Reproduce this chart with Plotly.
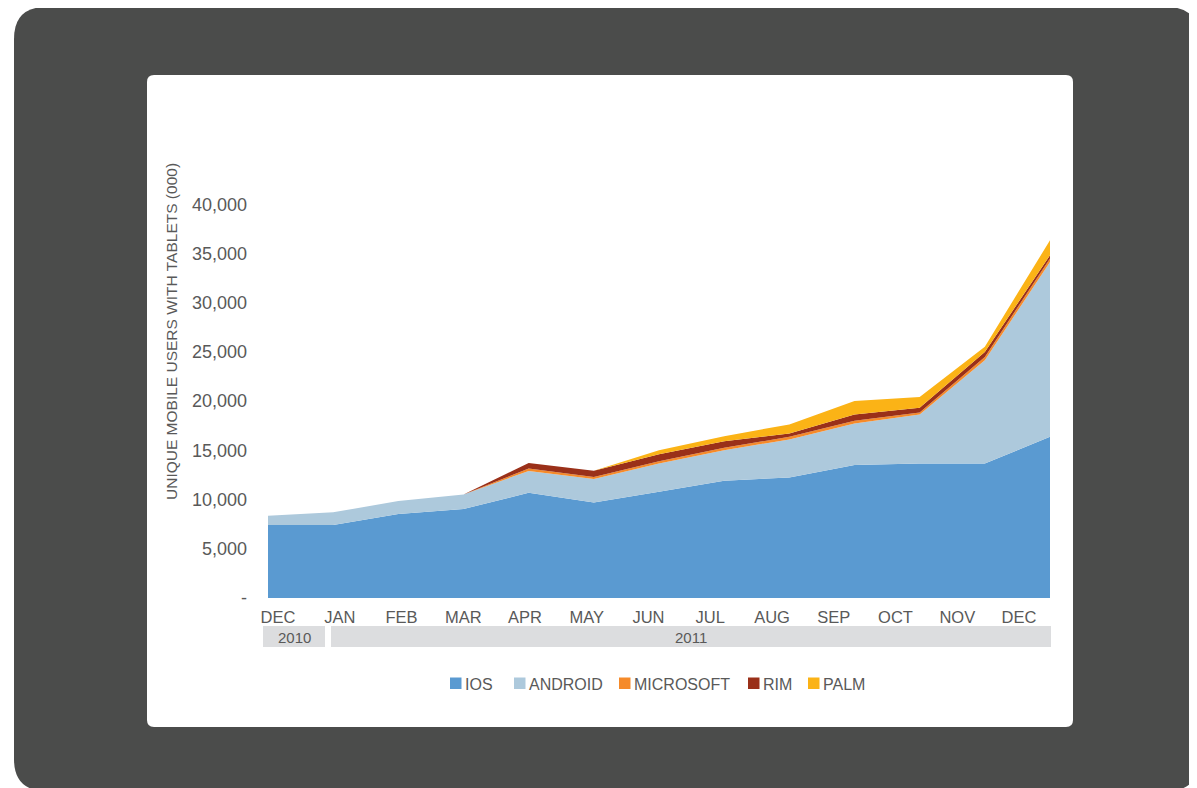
import plotly.graph_objects as go

# ---------------- data (thousands of users) ----------------
months = ["DEC", "JAN", "FEB", "MAR", "APR", "MAY", "JUN", "JUL", "AUG", "SEP", "OCT", "NOV", "DEC"]
years = ["2010", "2011"]
ios = [7410, 7410, 8530, 9030, 10680, 9710, 10800, 11910, 12250, 13500, 13670, 13670, 16375]
android = [940, 1290, 1320, 1490, 2230, 2370, 2850, 3110, 3855, 4230, 4980, 10490, 17765]
microsoft = [0, 0, 0, 0, 250, 200, 240, 240, 270, 270, 200, 330, 340]
rim = [0, 0, 0, 0, 550, 650, 700, 675, 340, 650, 470, 510, 335]
palm = [0, 0, 0, 0, 0, 0, 420, 505, 915, 1350, 1110, 510, 1525]
series_names = ["IOS", "ANDROID", "MICROSOFT", "RIM", "PALM"]
series_colors = ["#5a9ad1", "#adc9dc", "#f58a2a", "#9a3019", "#fbb316"]
y_ticks = [0, 5000, 10000, 15000, 20000, 25000, 30000, 35000, 40000]
y_ticktext = ["-", "5,000", "10,000", "15,000", "20,000", "25,000", "30,000", "35,000", "40,000"]

# ---------------- layout geometry ----------------
# Positions below are given in window pixels; the page body adds an 8px offset.
OFF = 8
W, H = 1197 - OFF, 788 - OFF
L, R, T, B = 268, 1050, 155, 598  # plot area in window pixels
YMAX = 45000
TEXT = "#595959"
FONT = "Liberation Sans, Arial, sans-serif"


def px(xp):
    return (xp - L) / (R - L)


def py(yp):
    return (B - yp) / (B - T)


x_idx = list(range(len(months)))
n = len(months) - 1
unit = (R - L) / n

fig = go.Figure()
for name, vals, col in zip(series_names, [ios, android, microsoft, rim, palm], series_colors):
    fig.add_trace(go.Scatter(
        x=x_idx, y=vals, name=name, stackgroup="one", mode="none",
        fillcolor=col, line=dict(width=0), showlegend=False,
        hovertemplate="%{y:,}<extra>" + name + "</extra>",
    ))

# month label positions (labels are spaced slightly tighter than the data points)
lab_first, lab_last = 278, 1019
tickvals = [((lab_first + i * (lab_last - lab_first) / n) - L) / unit for i in range(len(months))]

shapes = []


def rrect(x0, y0, x1, y1, r, color):
    X0, X1 = px(x0), px(x1)
    Y0, Y1 = py(y0), py(y1)
    rx = r / (R - L)
    ry = r / (B - T)
    path = (f"M{X0 + rx},{Y0} L{X1 - rx},{Y0} Q{X1},{Y0} {X1},{Y0 - ry} "
            f"L{X1},{Y1 + ry} Q{X1},{Y1} {X1 - rx},{Y1} "
            f"L{X0 + rx},{Y1} Q{X0},{Y1} {X0},{Y1 + ry} "
            f"L{X0},{Y0 - ry} Q{X0},{Y0} {X0 + rx},{Y0} Z")
    return dict(type="path", xref="paper", yref="paper", path=path,
                fillcolor=color, line=dict(width=0), layer="below")


shapes.append(rrect(14, 7, 1199, 791, 32, "#4b4c4b"))
shapes.append(rrect(147, 75, 1073, 727, 7, "#ffffff"))

# year bands
bands = [(263, 325), (331, 1051)]
annotations = []
for (bx0, bx1), yr in zip(bands, years):
    shapes.append(dict(type="rect", xref="paper", yref="paper",
                       x0=px(bx0), x1=px(bx1), y0=py(647), y1=py(626),
                       fillcolor="#dcdddf", line=dict(width=0), layer="below"))
    annotations.append(dict(x=px((bx0 + bx1) / 2), y=py(637), xref="paper", yref="paper",
                            text=yr, showarrow=False, xanchor="center", yanchor="middle",
                            font=dict(family=FONT, size=15, color=TEXT)))

# legend (squares + labels)
leg_x = [450, 514, 619, 748, 808]
for lx, name, col in zip(leg_x, series_names, series_colors):
    shapes.append(dict(type="rect", xref="paper", yref="paper",
                       x0=px(lx), x1=px(lx + 11.5), y0=py(689), y1=py(677.5),
                       fillcolor=col, line=dict(width=0), layer="above"))
    annotations.append(dict(x=px(lx + 12.5), y=py(684), xref="paper", yref="paper",
                            text=name, showarrow=False, xanchor="left", yanchor="middle",
                            font=dict(family=FONT, size=16, color=TEXT)))

# y-axis title
annotations.append(dict(x=px(171), y=py(332), xref="paper", yref="paper",
                        text="UNIQUE MOBILE USERS WITH TABLETS (000)", textangle=-90,
                        showarrow=False, xanchor="center", yanchor="middle",
                        font=dict(family=FONT, size=15.5, color=TEXT)))

fig.update_layout(
    width=W, height=H,
    margin=dict(l=L - OFF, r=W - (R - OFF), t=T - OFF, b=H - (B - OFF), pad=0),
    paper_bgcolor="#ffffff", plot_bgcolor="rgba(0,0,0,0)",
    showlegend=False,
    shapes=shapes, annotations=annotations,
    xaxis=dict(range=[0, n], tickvals=tickvals, ticktext=months,
               showgrid=False, zeroline=False, showline=False,
               ticks="outside", ticklen=4, tickcolor="rgba(0,0,0,0)",
               tickfont=dict(family=FONT, size=16.5, color=TEXT), fixedrange=True),
    yaxis=dict(range=[0, YMAX], tickvals=y_ticks, ticktext=y_ticktext,
               showgrid=False, zeroline=False, showline=False,
               ticks="", ticklabelstandoff=20,
               tickfont=dict(family=FONT, size=18, color=TEXT), fixedrange=True),
)

fig.write_html("out.html")
